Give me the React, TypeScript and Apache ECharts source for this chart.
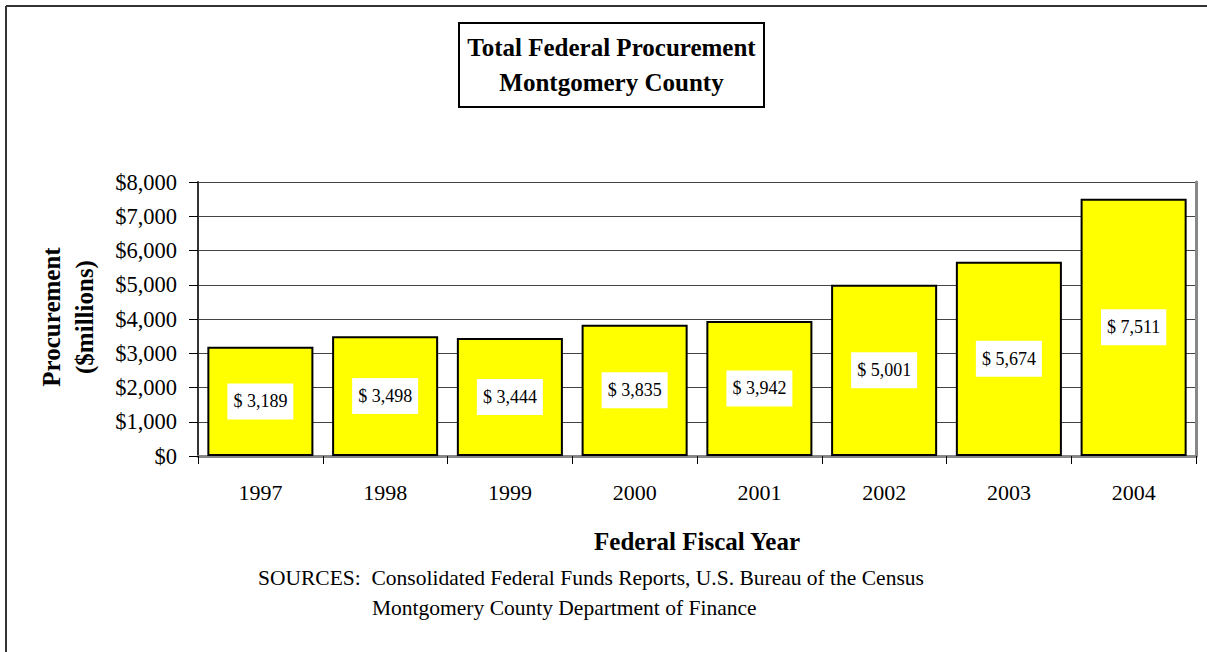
import React, { useEffect, useRef } from "react";
import * as echarts from "echarts";

const years = ["1997", "1998", "1999", "2000", "2001", "2002", "2003", "2004"];
const procurement = [3189, 3498, 3444, 3835, 3942, 5001, 5674, 7511];
const yTicks = { min: 0, max: 8000, interval: 1000 };
const titleLines = ["Total Federal Procurement", "Montgomery County"];
const xName = "Federal Fiscal Year";
const yNameLines = ["Procurement", "($millions)"];
const sources = [
  "SOURCES:  Consolidated Federal Funds Reports, U.S. Bureau of the Census",
  "Montgomery County Department of Finance",
];

const FONT = "'Liberation Serif', 'Times New Roman', serif";
const fmt = (v: number) => v.toLocaleString("en-US");

export default function App() {
  const ref = useRef<HTMLDivElement>(null);
  useEffect(() => {
    document.body.style.margin = "0";
    const chart = echarts.init(ref.current!, null, { renderer: "svg" });
    chart.setOption({
      animation: false,
      backgroundColor: "#fff",
      textStyle: { fontFamily: FONT },
      grid: { left: 198, top: 182, right: 11, bottom: 196, containLabel: false },
      xAxis: [
        {
          type: "category",
          data: years,
          position: "bottom",
          axisLine: { show: true, lineStyle: { color: "#333", width: 2 } },
          axisTick: { show: true, alignWithLabel: false, length: 8, lineStyle: { color: "#000", width: 1 } },
          axisLabel: { color: "#000", fontSize: 22, fontFamily: FONT, margin: 25 },
          splitLine: { show: false },
        },
        {
          type: "category",
          data: years,
          position: "top",
          axisLine: { show: true, lineStyle: { color: "#888", width: 3 } },
          axisTick: { show: false },
          axisLabel: { show: false },
        },
      ],
      yAxis: [
        {
          type: "value",
          min: yTicks.min,
          max: yTicks.max,
          interval: yTicks.interval,
          axisLine: { show: true, lineStyle: { color: "#333", width: 2 } },
          axisTick: { show: true, inside: false, length: 9, lineStyle: { color: "#000", width: 1 } },
          axisLabel: {
            color: "#000",
            fontSize: 22.5,
            fontFamily: FONT,
            margin: 21,
            formatter: (v: number) => "$" + fmt(v),
          },
          splitLine: { show: true, lineStyle: { color: "#444", width: 1 } },
        },
        {
          type: "value",
          position: "right",
          min: yTicks.min,
          max: yTicks.max,
          interval: yTicks.interval,
          axisLine: { show: true, lineStyle: { color: "#888", width: 3 } },
          axisTick: { show: false },
          axisLabel: { show: false },
          splitLine: { show: false },
        },
      ],
      series: [
        {
          type: "bar",
          data: procurement,
          xAxisIndex: 0,
          yAxisIndex: 0,
          barCategoryGap: "15%",
          itemStyle: { color: "#FFFF00", borderColor: "#000", borderWidth: 2 },
          label: {
            show: true,
            position: "inside",
            formatter: (p: any) => "$ " + fmt(p.value),
            color: "#000",
            fontSize: 18,
            fontFamily: FONT,
            backgroundColor: "#fff",
            padding: [9, 6],
          },
        },
      ],
      graphic: [
        {
          type: "line",
          shape: { x1: 6, y1: 6, x2: 1207, y2: 6 },
          style: { stroke: "#333", lineWidth: 2 },
        },
        {
          type: "line",
          shape: { x1: 6, y1: 6, x2: 6, y2: 652 },
          style: { stroke: "#333", lineWidth: 2 },
        },
        {
          type: "rect",
          shape: { x: 459, y: 23, width: 305, height: 84 },
          style: { fill: "#fff", stroke: "#000", lineWidth: 2 },
        },
        {
          type: "text",
          x: 611.5,
          y: 65,
          style: {
            text: titleLines.join("\n"),
            font: `bold 25px ${FONT}`,
            fill: "#000",
            align: "center",
            verticalAlign: "middle",
            lineHeight: 35,
          },
        },
        {
          type: "text",
          x: 697,
          y: 541,
          style: {
            text: xName,
            font: `bold 25px ${FONT}`,
            fill: "#000",
            align: "center",
            verticalAlign: "middle",
          },
        },
        {
          type: "text",
          x: 68,
          y: 317,
          rotation: Math.PI / 2,
          style: {
            text: yNameLines.join("\n"),
            font: `bold 25px ${FONT}`,
            fill: "#000",
            align: "center",
            verticalAlign: "middle",
            lineHeight: 33,
          },
        },
        {
          type: "text",
          x: 258,
          y: 578,
          style: {
            text: sources[0],
            font: `21.5px ${FONT}`,
            fill: "#000",
            align: "left",
            verticalAlign: "middle",
          },
        },
        {
          type: "text",
          x: 372,
          y: 608,
          style: {
            text: sources[1],
            font: `21.5px ${FONT}`,
            fill: "#000",
            align: "left",
            verticalAlign: "middle",
          },
        },
      ],
    });
    return () => chart.dispose();
  }, []);
  return <div ref={ref} style={{ width: 1207, height: 652 }} />;
}
